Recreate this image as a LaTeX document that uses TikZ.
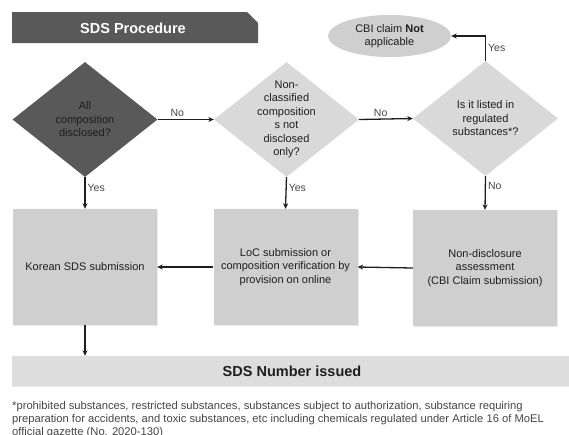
\documentclass[tikz,border=0pt]{standalone}
\usepackage{fontspec}
\setmainfont{Liberation Sans}
\definecolor{Dark}{RGB}{89,89,89}
\definecolor{Pale}{RGB}{217,217,217}
\definecolor{Block}{RGB}{207,207,207}
\definecolor{Band}{RGB}{221,221,221}
\definecolor{Ink}{RGB}{30,30,30}
\definecolor{Note}{RGB}{70,70,70}
\usetikzlibrary{arrows.meta,shapes.geometric,shadows}

\tikzset{
  decision/.style={diamond,minimum width=145pt,minimum height=115pt,inner sep=0pt,fill=#1},
  qtext/.style={align=center,inner sep=0pt,text=Ink,font=\fontsize{11}{13.5}\selectfont},
  stepbox/.style={rectangle,fill=Block,minimum width=144pt,minimum height=116pt,align=center,
    text=Ink,font=\fontsize{11}{13.5}\selectfont,
    drop shadow={shadow xshift=1.2pt,shadow yshift=-1.2pt,opacity=0.18}},
  link/.style={->,draw=Ink,line width=1.3pt},
  lbl/.style={text=Note,inner sep=2pt,font=\fontsize{10.5}{12}\selectfont}
}

\begin{document}
\begin{tikzpicture}[x=1pt,y=-1pt,>={Stealth[length=5.5pt,width=5pt]}]
  \useasboundingbox (0,0) rectangle (569,434);
  % title banner
  \fill[Dark] (12,12) -- (247,12) -- (258,23) -- (258,43) -- (12,43) -- cycle;
  \node[text=white,font=\bfseries\fontsize{14.5}{17}\selectfont] (title) at (133,28) {SDS Procedure};

  % questions
  \node[decision=Dark] (q1) at (85,119.5) {};
  \node[decision=Pale] (q2) at (286.5,119.5) {};
  \node[decision=Pale] (q3) at (485.5,118.5) {};
  \node[qtext] (q1t) at (q1) {All\\composition\\disclosed?};
  \node[qtext] (q2t) at (q2) {Non-\\classified\\composition\\s not\\disclosed\\only?};
  \node[qtext] (q3t) at (q3) {Is it listed in\\regulated\\substances*?};
  \node[ellipse,fill=Block,minimum width=123pt,minimum height=42pt,inner sep=0pt,
    align=center,text=Ink,font=\fontsize{11}{13.5}\selectfont] (cbi) at (389.5,36) {CBI claim \textbf{Not}\\applicable};

  % steps
  \node[stepbox] (korean) at (85,267) {Korean SDS submission};
  \node[stepbox] (loc) at (285.5,267) {LoC submission or\\composition verification by\\provision on online};
  \node[stepbox] (cbisub) at (485,268) {Non-disclosure\\assessment\\(CBI Claim submission)};
  \node[fill=Band,minimum width=560pt,minimum height=30pt,inner sep=0pt,text=Ink,
    font=\bfseries\fontsize{14.5}{17}\selectfont,
    drop shadow={shadow xshift=0pt,shadow yshift=-1.2pt,opacity=0.18}] (issued) at (292,371) {SDS Number issued};

  % connectors
  \draw[link] (q1.east) -- node[lbl,above,pos=0.35] {No} (q2.west);
  \draw[link] (q2.east) -- node[lbl,above,pos=0.4] {No} (q3.west);
  \draw[link] (q3.north) |- node[lbl,right,pos=0.25] {Yes} (cbi.east);
  \draw[link] (q1.south) -- node[lbl,right,pos=0.35] {Yes} (korean.north);
  \draw[link] (q2.south) -- node[lbl,right,pos=0.35] {Yes} (loc.north);
  \draw[link] (q3.south) -- node[lbl,right,pos=0.3] {No} (cbisub.north);
  \draw[link] (cbisub.west) -- (loc.east);
  \draw[link] (loc.west) -- (korean.east);
  \draw[link] (korean.south) -- (korean.south |- issued.north);

  % footnote
  \node[anchor=north west,inner sep=0pt,align=left,text=Note,font=\fontsize{11.2}{13}\selectfont] (fn) at (12,401)
    {*prohibited substances, restricted substances, substances subject to authorization, substance requiring\\
     preparation for accidents, and toxic substances, etc including chemicals regulated under Article 16 of MoEL\\
     official gazette (No. 2020-130)};
\end{tikzpicture}
\end{document}
